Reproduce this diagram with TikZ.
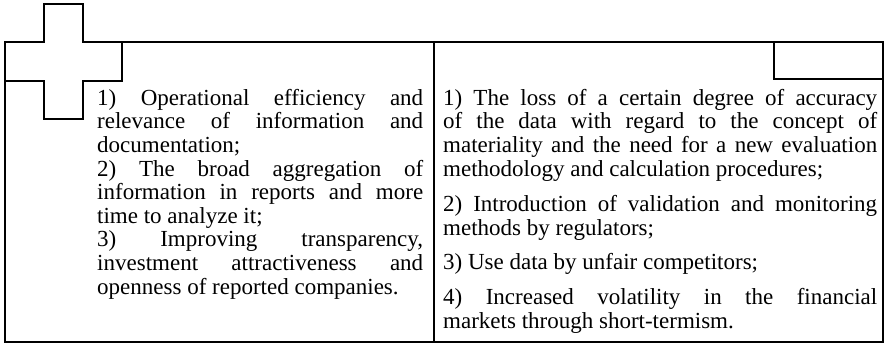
\documentclass[tikz,border=0pt]{standalone}
\usepackage{fontspec}
\setmainfont{Liberation Serif}
\usepackage{tikz}

\tikzset{
  frame/.style={line width=1.6pt},
  sign/.style={line width=2pt,fill=white},
  cell/.style={anchor=north west,inner sep=0pt,align=justify,
    font=\fontsize{23}{23.6}\selectfont}
}

\begin{document}
\begin{tikzpicture}[x=1pt,y=-1pt]
\pgfmathsetmacro\lft{5}
\pgfmathsetmacro\rgt{883}
\pgfmathsetmacro\top{42}
\pgfmathsetmacro\bot{342}
\pgfmathsetmacro\mid{434}
\useasboundingbox (0,0) rectangle (886,346);

% table frame and column line
\draw[frame] (\lft,\top) rectangle (\rgt,\bot);
\draw[frame] (\mid,\top) -- (\mid,\bot);

% plus and minus signs
\draw[sign] (44,4) -- (83,4) -- (83,42) -- (122,42) -- (122,81) -- (83,81)
  -- (83,119) -- (44,119) -- (44,81) -- (5,81) -- (5,42) -- (44,42) -- cycle;
\draw[sign] (774,42) rectangle (\rgt,79);

\node[cell,text width=326pt] (pros) at (97,89) {%
1) Operational efficiency and\linebreak relevance of information and\linebreak documentation;\par
2) The broad aggregation of\linebreak information in reports and more\linebreak time to analyze it;\par
3) Improving transparency,\linebreak investment attractiveness and\linebreak openness of reported companies.};

\node[cell,text width=434pt] (cons) at (443,89) {%
1) The loss of a certain degree of accuracy\linebreak of the data with regard to the concept of\linebreak materiality and the need for a new evaluation\linebreak methodology and calculation procedures;\par\vspace{12pt}
2) Introduction of validation and monitoring\linebreak methods by regulators;\par\vspace{11pt}
3) Use data by unfair competitors;\par\vspace{11pt}
4) Increased volatility in the financial\linebreak markets through short-termism.};
\end{tikzpicture}
\end{document}
